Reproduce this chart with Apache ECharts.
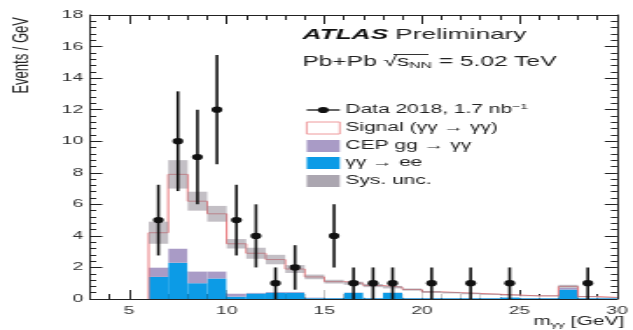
<!DOCTYPE html>
<html>
<head>
<meta charset="utf-8">
<script src="https://cdn.jsdelivr.net/npm/echarts@6/dist/echarts.min.js"></script>
<style>
html,body{margin:0;padding:0;background:#fff;overflow:hidden}
#wrap{width:633px;height:330px;overflow:hidden;position:relative}
#chart{width:362px;height:330px;transform:scaleX(1.7486);transform-origin:0 0}
</style>
</head>
<body>
<div id="wrap"><div id="chart"></div></div>
<script>
// ---------- values ----------
const binEdges = [6,7,8,9,10,11,12,13,14,15,16,17,18,19,20,21,22,23,24,25,26,27,28,29,30];
const eeValues = [1.4,2.3,1.0,1.3,0.15,0.35,0.4,0.4,0.05,0.05,0.4,0.05,0.4,0.05,0.05,0.05,0.05,0.05,0.1,0.05,0.05,0.6,0.05,0.05];
const cepValues = [0.6,0.9,0.75,0.45,0.2,0.05,0.05,0.05,0.05,0.02,0.02,0.02,0.02,0.02,0.02,0.01,0.01,0.01,0.01,0.01,0.01,0.1,0.01,0.01];
const signalValues = [2.2,4.7,4.45,3.65,3.15,2.5,2.05,1.45,1.3,1.03,0.58,0.78,0.33,0.53,0.38,0.34,0.29,0.24,0.14,0.14,0.14,0.1,0.09,0.04];
const sysUncValues = [0.7,0.9,0.6,0.5,0.3,0.35,0.3,0.25,0.15,0.12,0.1,0.1,0.08,0.07,0.06,0.05,0.05,0.04,0.04,0.03,0.03,0.1,0.03,0.02];
const dataX = [6.5,7.5,8.5,9.5,10.5,11.5,12.5,13.5,15.5,16.5,17.5,18.5,20.5,22.5,24.5,28.5];
const dataY = [5,10,9,12,5,4,1,2,4,1,1,1,1,1,1,1];
const dataErr = [2.24,3.16,3.0,3.46,2.24,2.0,1.0,1.41,2.0,1.0,1.0,1.0,1.0,1.0,1.0,1.0];
const xTickLabels = [5,10,15,20,25,30];
const yTickLabels = [0,2,4,6,8,10,12,14,16,18];

// ---------- build series data ----------
const lows = binEdges.slice(0, -1);
const highs = binEdges.slice(1);
const totals = lows.map((lo, i) => eeValues[i] + cepValues[i] + signalValues[i]);
const eeData = lows.map((lo, i) => [lo, 0, eeValues[i], highs[i]]);
const cepData = lows.map((lo, i) => [lo, eeValues[i], eeValues[i] + cepValues[i], highs[i]]);
const sigData = lows.map((lo, i) => [lo, eeValues[i] + cepValues[i], totals[i], highs[i]]);
const sysData = lows.map((lo, i) => [lo, totals[i] - sysUncValues[i], totals[i] + sysUncValues[i], highs[i]]);
const outline = [[binEdges[0], 0]].concat(lows.map((lo, i) => [lo, totals[i]]), [[binEdges[binEdges.length - 1], totals[totals.length - 1]]]);
const dataPts = dataX.map((x, i) => [x, dataY[i], dataErr[i]]);

const C_EE = '#0c9be6';
const C_CEP = '#a99bc6';
const C_SYS = 'rgba(145,138,150,0.55)';
const C_SIG = '#e9797d';
const FONT = 'Liberation Sans, Arial, sans-serif';

function binRect(fill) {
  return function (params, api) {
    const a = api.coord([api.value(0), api.value(2)]);
    const b = api.coord([api.value(3), api.value(1)]);
    return { type: 'rect', shape: { x: a[0], y: a[1], width: b[0] - a[0], height: b[1] - a[1] }, style: { fill: fill } };
  };
}

const chart = echarts.init(document.getElementById('chart'), null, { renderer: 'canvas' });

const xBase = { type: 'value', min: 3, max: 30, splitLine: { show: false } };
const yBase = { type: 'value', min: 0, max: 18, interval: 2, splitLine: { show: false } };
const lineCol = '#222';

const L = { x0: 175.4, x1: 194.3, tx: 197.5 };
const rows = [110, 128, 146, 163, 181];

chart.setOption({
  animation: false,
  textStyle: { fontFamily: FONT },
  grid: { left: 51.5, right: 4.6, top: 15, bottom: 31 },
  xAxis: [
    Object.assign({}, xBase, { position: 'bottom', interval: 1,
      axisLine: { show: true, lineStyle: { color: lineCol, width: 1 } },
      axisTick: { show: true, inside: true, length: 5, lineStyle: { color: lineCol } },
      axisLabel: { customValues: xTickLabels, margin: 6, fontSize: 11, color: '#333', fontFamily: FONT } }),
    Object.assign({}, xBase, { position: 'bottom',
      axisLine: { show: false },
      axisTick: { show: true, inside: true, length: 9, customValues: xTickLabels, lineStyle: { color: lineCol } },
      axisLabel: { show: false } }),
    Object.assign({}, xBase, { position: 'top', interval: 1,
      axisLine: { show: true, lineStyle: { color: lineCol, width: 1 } },
      axisTick: { show: true, inside: true, length: 5, lineStyle: { color: lineCol } },
      axisLabel: { show: false } }),
    Object.assign({}, xBase, { position: 'top',
      axisLine: { show: false },
      axisTick: { show: true, inside: true, length: 9, customValues: xTickLabels, lineStyle: { color: lineCol } },
      axisLabel: { show: false } })
  ],
  yAxis: [
    Object.assign({}, yBase, { position: 'left',
      axisLine: { show: true, lineStyle: { color: lineCol, width: 1 } },
      axisTick: { show: true, inside: true, length: 7, lineStyle: { color: lineCol } },
      minorTick: { show: true, splitNumber: 5, length: 3.5, lineStyle: { color: lineCol } },
      axisLabel: { customValues: yTickLabels, margin: 4, fontSize: 11, color: '#333', fontFamily: FONT } }),
    Object.assign({}, yBase, { position: 'right',
      axisLine: { show: true, lineStyle: { color: lineCol, width: 1 } },
      axisTick: { show: true, inside: true, length: 7, lineStyle: { color: lineCol } },
      minorTick: { show: true, splitNumber: 5, length: 3.5, lineStyle: { color: lineCol } },
      axisLabel: { show: false } })
  ],
  series: [
    { name: 'γγ → ee', type: 'custom', renderItem: binRect(C_EE), data: eeData, encode: { x: [0, 3], y: [1, 2] }, z: 2 },
    { name: 'CEP gg → γγ', type: 'custom', renderItem: binRect(C_CEP), data: cepData, encode: { x: [0, 3], y: [1, 2] }, z: 2 },
    { name: 'Signal (γγ → γγ)', type: 'custom', renderItem: binRect('#ffffff'), data: sigData, encode: { x: [0, 3], y: [1, 2] }, z: 2 },
    { name: 'Signal outline', type: 'line', step: 'end', data: outline, symbol: 'none',
      lineStyle: { color: C_SIG, width: 1 }, z: 3 },
    { name: 'Sys. unc.', type: 'custom', renderItem: binRect(C_SYS), data: sysData, encode: { x: [0, 3], y: [1, 2] }, z: 4 },
    { name: 'Data 2018, 1.7 nb⁻¹', type: 'custom', data: dataPts, encode: { x: 0, y: 1 }, z: 6,
      renderItem: function (params, api) {
        const x = api.value(0), y = api.value(1), e = api.value(2);
        const c = api.coord([x, y]);
        const t = api.coord([x, y + e]);
        const b = api.coord([x, Math.max(0, y - e)]);
        return { type: 'group', children: [
          { type: 'line', shape: { x1: c[0], y1: t[1], x2: c[0], y2: b[1] }, style: { stroke: '#111', lineWidth: 1.6 } },
          { type: 'circle', shape: { cx: c[0], cy: c[1], r: 3.1 }, style: { fill: '#111' } }
        ] };
      } }
  ],
  graphic: [
    // titles
    { type: 'text', x: 173, y: 35, z: 10, style: {
        text: '{b|ATLAS} Preliminary', fontSize: 15, fontFamily: FONT, fill: '#222', textVerticalAlign: 'middle',
        rich: { b: { fontSize: 15, fontWeight: 'bold', fontStyle: 'italic', fontFamily: FONT, fill: '#111' } } } },
    { type: 'text', x: 173, y: 62, z: 10, style: {
        text: 'Pb+Pb √s{sub|NN} = 5.02 TeV', fontSize: 14, fontFamily: FONT, fill: '#222', textVerticalAlign: 'middle',
        rich: { sub: { fontSize: 9, fontFamily: FONT, fill: '#222', padding: [7, 0, 0, 0] } } } },
    { type: 'line', z: 10, shape: { x1: 225, y1: 54.5, x2: 245, y2: 54.5 }, style: { stroke: '#333', lineWidth: 1 } },
    // axis titles
    { type: 'text', x: 12.6, y: 17, rotation: Math.PI / 2, z: 10, style: {
        text: 'Events / GeV', fontSize: 13, fontFamily: FONT, fill: '#222', textAlign: 'right', textVerticalAlign: 'middle' } },
    { type: 'text', x: 357, y: 322, z: 10, style: {
        text: 'm{sub|γγ} [GeV]', fontSize: 12, fontFamily: FONT, fill: '#222', textAlign: 'right', textVerticalAlign: 'middle',
        rich: { sub: { fontSize: 8, fontFamily: FONT, fill: '#222', padding: [6, 0, 0, 0] } } } },
    // legend
    { type: 'line', z: 10, shape: { x1: L.x0, y1: rows[0], x2: L.x1, y2: rows[0] }, style: { stroke: '#111', lineWidth: 1.3 } },
    { type: 'circle', z: 10, shape: { cx: (L.x0 + L.x1) / 2, cy: rows[0], r: 3.1 }, style: { fill: '#111' } },
    { type: 'rect', z: 10, shape: { x: L.x0, y: rows[1] - 6, width: L.x1 - L.x0, height: 12 }, style: { fill: '#fff', stroke: '#ee9a9c', lineWidth: 1 } },
    { type: 'rect', z: 10, shape: { x: L.x0, y: rows[2] - 6, width: L.x1 - L.x0, height: 12 }, style: { fill: C_CEP } },
    { type: 'rect', z: 10, shape: { x: L.x0, y: rows[3] - 6, width: L.x1 - L.x0, height: 12 }, style: { fill: C_EE } },
    { type: 'rect', z: 10, shape: { x: L.x0, y: rows[4] - 6, width: L.x1 - L.x0, height: 12 }, style: { fill: '#aba6b0' } },
    { type: 'text', z: 10, x: L.tx, y: rows[0], style: { text: 'Data 2018, 1.7 nb{sup|−1}', fontSize: 12, fontFamily: FONT, fill: '#222', textVerticalAlign: 'middle',
        rich: { sup: { fontSize: 8, fontFamily: FONT, fill: '#222', padding: [0, 0, 7, 0] } } } },
    { type: 'text', z: 10, x: L.tx, y: rows[1], style: { text: 'Signal (γγ → γγ)', fontSize: 12, fontFamily: FONT, fill: '#222', textVerticalAlign: 'middle' } },
    { type: 'text', z: 10, x: L.tx, y: rows[2], style: { text: 'CEP gg → γγ', fontSize: 12, fontFamily: FONT, fill: '#222', textVerticalAlign: 'middle' } },
    { type: 'text', z: 10, x: L.tx, y: rows[3], style: { text: 'γγ → ee', fontSize: 12, fontFamily: FONT, fill: '#222', textVerticalAlign: 'middle' } },
    { type: 'text', z: 10, x: L.tx, y: rows[4], style: { text: 'Sys. unc.', fontSize: 12, fontFamily: FONT, fill: '#222', textVerticalAlign: 'middle' } }
  ]
});
</script>
</body>
</html>
